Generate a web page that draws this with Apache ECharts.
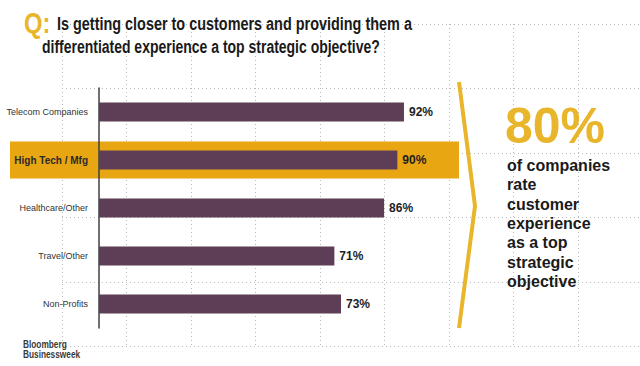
<!DOCTYPE html>
<html>
<head>
<meta charset="utf-8">
<script src="https://cdn.jsdelivr.net/npm/echarts@6/dist/echarts.min.js"></script>
<style>html,body{margin:0;padding:0;background:#fff;}#c{width:640px;height:366px;}</style>
</head>
<body>
<div id="c"></div>
<script>
const categories = ['Telecom Companies', 'High Tech / Mfg', 'Healthcare/Other', 'Travel/Other', 'Non-Profits'];
const values = [92, 90, 86, 71, 73];
const highlightCategory = 'High Tech / Mfg';
const titleLine1 = 'Is getting closer to customers and providing them a';
const titleLine2 = 'differentiated experience a top strategic objective?';
const bigStat = '80%';
const statText = ['of companies', 'rate', 'customer', 'experience', 'as a top', 'strategic', 'objective'];
const logoLines = ['Bloomberg', 'Businessweek'];

const SANS = '"Liberation Sans", Arial, sans-serif';
const ORANGE = '#E8A612';
const GOLD = '#E9B52A';
const BAR = '#5E3E57';

const chart = echarts.init(document.getElementById('c'), null, {renderer: 'svg'});

const option = {
  backgroundColor: '#ffffff',
  animation: false,
  grid: [
    {left: 99, top: 88, width: 331.5, height: 240, outerBoundsMode: 'none', containLabel: false},
    {left: 62, top: 24, width: 580.5, height: 322.5, outerBoundsMode: 'none', containLabel: false}
  ],
  xAxis: [
    {gridIndex: 0, type: 'value', min: 0, max: 100, show: false},
    {gridIndex: 1, type: 'value', min: 0, max: 9, interval: 1, z: -5,
      axisLine: {show: false}, axisTick: {show: false}, axisLabel: {show: false},
      splitLine: {show: true, lineStyle: {color: '#b8b8b8', width: 1, type: [1, 3]}}}
  ],
  yAxis: [
    {gridIndex: 0, type: 'category', data: categories, inverse: true, offset: 4,
      axisLine: {show: true, lineStyle: {color: '#404040', width: 1.5}},
      axisTick: {show: false},
      axisLabel: {
        margin: 7,
        fontFamily: SANS, fontSize: 9, color: '#333',
        formatter: function (v) { return v === highlightCategory ? '{b|' + v + '}' : v; },
        rich: {b: {fontFamily: SANS, fontSize: 10, fontWeight: 'bold', color: '#2a2a2a'}}
      },
      splitLine: {show: false}},
    {gridIndex: 1, type: 'value', min: 0, max: 5, interval: 1, z: -5,
      axisLine: {show: false}, axisTick: {show: false}, axisLabel: {show: false},
      splitLine: {show: true, lineStyle: {color: '#b8b8b8', width: 1, type: [1, 3]}}}
  ],
  series: [{
    type: 'bar',
    xAxisIndex: 0, yAxisIndex: 0,
    data: values,
    barWidth: 19,
    z: 5,
    itemStyle: {color: BAR},
    label: {
      show: true, position: 'right', distance: 5,
      formatter: '{c}%',
      fontFamily: SANS, fontSize: 12, fontWeight: 'bold', color: '#1e1e1e'
    }
  }]
};
chart.setOption(option);

const yHi = chart.convertToPixel({yAxisIndex: 0}, highlightCategory);
chart.setOption({
  graphic: [
    {type: 'rect', z: -1, shape: {x: 10, y: yHi - 18.5, width: 449, height: 37}, style: {fill: ORANGE}},
    {type: 'polyline', z: 10, shape: {points: [[459, 82], [475, 206], [459, 328]]},
      style: {stroke: GOLD, lineWidth: 4, fill: null}},
    {type: 'text', z: 10, x: 24, y: 23, scaleX: 0.82,
      style: {text: 'Q:', fontFamily: SANS, fontSize: 29, fontWeight: 'bold', fill: GOLD, verticalAlign: 'middle'}},
    {type: 'text', z: 10, x: 57, y: 23.5, scaleX: 0.82,
      style: {text: titleLine1, fontFamily: SANS, fontSize: 17.6, fontWeight: 'bold', fill: '#1a1a1a', verticalAlign: 'middle'}},
    {type: 'text', z: 10, x: 42, y: 47, scaleX: 0.795,
      style: {text: titleLine2, fontFamily: SANS, fontSize: 17.6, fontWeight: 'bold', fill: '#1a1a1a', verticalAlign: 'middle'}},
    {type: 'text', z: 10, left: 505, top: 101,
      style: {text: bigStat, fontFamily: SANS, fontSize: 50, fontWeight: 'bold', fill: GOLD}},
    {type: 'text', z: 10, left: 507, top: 156,
      style: {text: statText.join('\n'), fontFamily: SANS, fontSize: 16, fontWeight: 'bold', fill: '#1a1a1a', lineHeight: 19.3}},
    {type: 'text', z: 10, x: 23, y: 345, scaleX: 0.83,
      style: {text: logoLines[0], fontFamily: SANS, fontSize: 10, fontWeight: 'bold', fill: '#3a3a3a', verticalAlign: 'middle'}},
    {type: 'text', z: 10, x: 23, y: 355, scaleX: 0.83,
      style: {text: logoLines[1], fontFamily: SANS, fontSize: 10, fontWeight: 'bold', fill: '#3a3a3a', verticalAlign: 'middle'}}
  ]
});
</script>
</body>
</html>
